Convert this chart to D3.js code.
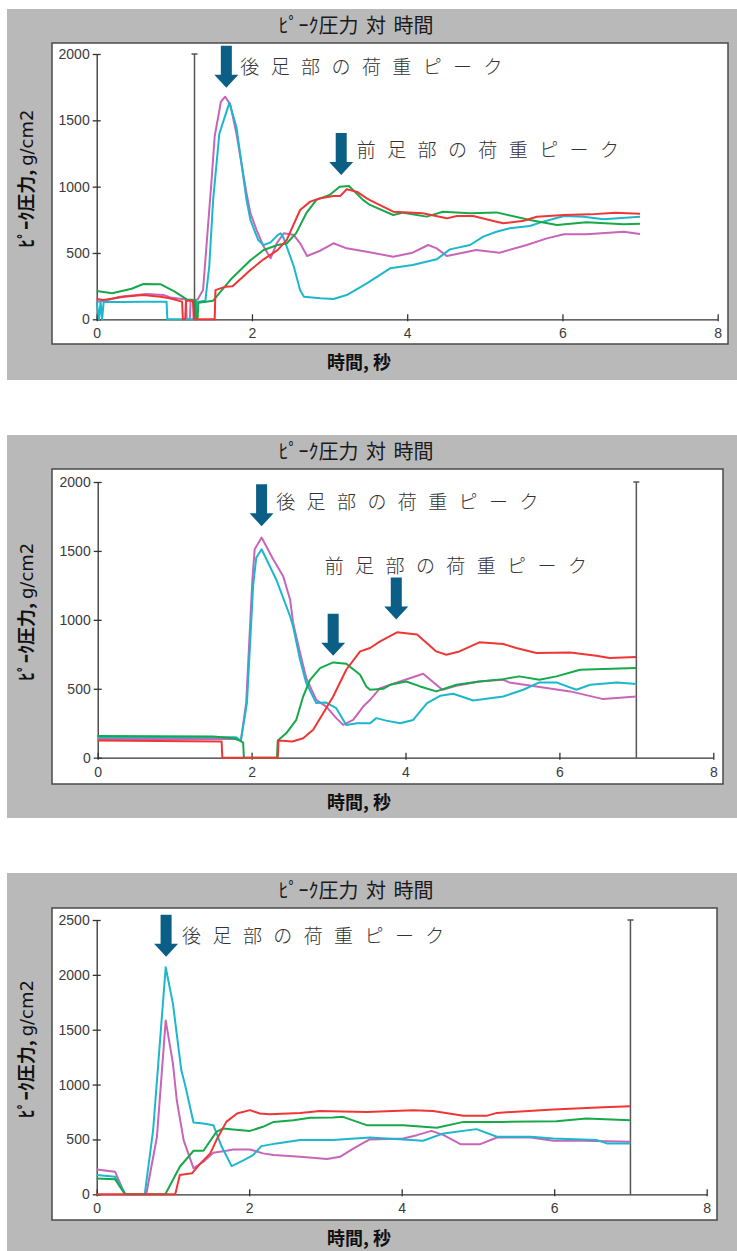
<!DOCTYPE html>
<html>
<head>
<meta charset="utf-8">
<script src="https://cdn.jsdelivr.net/npm/d3@7"></script>
<style>
  body { margin: 0; background: #fff; }
  svg { display: block; }
</style>
</head>
<body>
<div id="chart"></div>
<script>
// tick values
var timeTicks = [0, 2, 4, 6, 8];
var pressTicks2000 = [0, 500, 1000, 1500, 2000];
var pressTicks2500 = [0, 500, 1000, 1500, 2000, 2500];

// labels
var titleText = "ﾋﾟｰｸ圧力 対 時間";
var xLabelText = "時間, 秒";
var yLabelMain = "ﾋﾟｰｸ圧力, ";
var yLabelUnit = "g/cm2";
var rearText = "後足部の荷重ピーク";
var foreText = "前足部の荷重ピーク";

// panel 1 series: [time (s), peak pressure (g/cm2)]
var p1Magenta = [[0,133],[0.1,140],[0.3,170],[0.64,190],[0.86,183],[0.95,165],[1.15,150],[1.16,0],[1.2,0],[1.21,140],[1.3,150],[1.37,221],[1.43,673],[1.48,1050],[1.52,1380],[1.6,1640],[1.655,1678],[1.72,1620],[1.8,1400],[1.93,950],[1.98,800],[2.06,673],[2.15,548],[2.24,460],[2.32,573],[2.41,648],[2.54,635],[2.62,573],[2.71,477],[2.88,517],[3.05,573],[3.22,535],[3.48,510],[3.82,472],[4.07,502],[4.27,560],[4.38,535],[4.51,477],[4.89,522],[5.19,502],[5.54,560],[5.8,610],[6.02,641],[6.31,641],[6.79,660],[7.0,643]];
var p1Cyan = [[0,133],[0.03,0],[0.05,133],[0.07,0],[0.09,133],[0.3,130],[0.6,133],[0.9,133],[0.91,0],[1.28,0],[1.29,130],[1.4,140],[1.45,400],[1.5,900],[1.58,1400],[1.71,1633],[1.8,1450],[1.93,900],[1.98,750],[2.08,598],[2.15,560],[2.24,580],[2.33,635],[2.37,648],[2.41,610],[2.54,397],[2.62,221],[2.67,170],[2.88,158],[3.05,153],[3.22,183],[3.48,271],[3.78,384],[4.07,409],[4.38,452],[4.55,527],[4.81,560],[4.98,623],[5.15,660],[5.32,686],[5.58,703],[5.75,736],[6.02,779],[6.27,773],[6.53,754],[7.0,773]];
var p1Green = [[0,213],[0.2,196],[0.45,230],[0.6,266],[0.82,265],[1.0,210],[1.16,150],[1.27,145],[1.28,0],[1.3,0],[1.31,125],[1.5,140],[1.72,296],[1.98,445],[2.15,522],[2.33,560],[2.45,573],[2.57,650],[2.7,800],[2.83,900],[3.0,937],[3.13,1000],[3.25,1005],[3.43,900],[3.52,862],[3.82,786],[3.95,804],[4.25,774],[4.46,811],[4.81,799],[5.15,806],[5.58,749],[5.93,711],[6.31,731],[6.79,716],[7.0,721]];
var p1Red = [[0,153],[0.09,145],[0.35,170],[0.6,183],[0.82,170],[0.94,158],[1.1,133],[1.11,0],[1.14,0],[1.15,140],[1.24,140],[1.25,0],[1.52,0],[1.53,220],[1.66,246],[1.75,250],[1.98,372],[2.15,452],[2.33,522],[2.45,600],[2.62,824],[2.75,887],[2.88,912],[3.05,930],[3.14,930],[3.22,980],[3.35,962],[3.48,912],[3.52,899],[3.82,811],[4.2,799],[4.51,761],[4.64,779],[4.85,779],[5.15,736],[5.24,724],[5.5,743],[5.67,773],[6.02,786],[6.36,791],[6.68,804],[7.0,796]];

// panel 2 series
var p2Magenta = [[0,136],[1.8,136],[1.86,122],[1.93,400],[2.01,1293],[2.04,1512],[2.13,1597],[2.28,1439],[2.41,1317],[2.5,1148],[2.54,978],[2.63,760],[2.71,578],[2.84,420],[2.97,371],[3.1,287],[3.19,238],[3.32,274],[3.45,371],[3.54,420],[3.67,505],[3.93,553],[4.23,609],[4.4,529],[4.48,493],[4.66,522],[4.96,553],[5.27,565],[5.35,546],[5.7,517],[6.14,481],[6.57,425],[7.0,444]];
var p2Cyan = [[0,148],[1.8,148],[1.86,122],[1.94,400],[2.02,1250],[2.06,1450],[2.13,1512],[2.32,1293],[2.5,1026],[2.54,950],[2.63,711],[2.71,541],[2.84,396],[2.97,400],[3.1,359],[3.23,238],[3.37,250],[3.54,250],[3.62,287],[3.75,269],[3.93,250],[4.1,274],[4.28,396],[4.45,449],[4.62,464],[4.88,415],[5.27,444],[5.53,493],[5.74,546],[5.96,546],[6.22,493],[6.4,529],[6.75,546],[7.0,534]];
var p2Green = [[0,158],[1.5,153],[1.76,141],[1.85,124],[1.89,110],[1.9,0],[2.33,0],[2.34,124],[2.45,177],[2.58,274],[2.67,444],[2.76,565],[2.89,650],[3.06,691],[3.23,682],[3.41,602],[3.49,517],[3.54,493],[3.71,500],[3.8,529],[4.01,553],[4.19,517],[4.4,481],[4.66,529],[4.96,553],[5.27,570],[5.48,590],[5.74,565],[5.96,590],[6.27,638],[6.57,643],[7.0,650]];
var p2Red = [[0,124],[1.61,117],[1.62,0],[2.34,0],[2.35,124],[2.53,117],[2.67,141],[2.8,202],[2.93,323],[3.06,444],[3.23,638],[3.41,771],[3.54,796],[3.67,844],[3.89,910],[4.15,893],[4.4,771],[4.53,747],[4.7,771],[4.96,837],[5.27,825],[5.44,796],[5.7,760],[6.14,764],[6.48,740],[6.65,723],[7.0,731]];

// panel 3 series
var p3Magenta = [[0,227],[0.24,206],[0.37,0],[0.65,0],[0.79,524],[0.905,1585],[1.0,1191],[1.05,857],[1.14,494],[1.27,236],[1.4,297],[1.53,379],[1.7,397],[1.79,409],[2.01,409],[2.18,373],[2.32,358],[2.67,342],[3.02,321],[3.19,342],[3.37,418],[3.58,500],[4.02,509],[4.2,539],[4.39,578],[4.55,539],[4.77,457],[5.03,457],[5.25,518],[5.69,518],[5.99,488],[6.38,488],[7.0,479]];
var p3Cyan = [[0,175],[0.24,160],[0.38,0],[0.63,0],[0.74,585],[0.905,2069],[1.0,1736],[1.11,1130],[1.16,994],[1.27,654],[1.4,645],[1.53,630],[1.64,433],[1.77,257],[1.93,312],[2.05,357],[2.16,439],[2.36,464],[2.67,494],[3.1,494],[3.58,518],[4.02,500],[4.28,488],[4.55,555],[4.98,594],[5.25,524],[5.69,524],[5.99,509],[6.56,494],[6.69,464],[7.0,464]];
var p3Green = [[0,145],[0.24,138],[0.37,0],[0.9,0],[1.09,251],[1.27,397],[1.4,397],[1.57,569],[1.66,600],[1.79,591],[2.01,578],[2.18,615],[2.32,660],[2.58,675],[2.8,697],[3.1,700],[3.23,706],[3.54,630],[4.02,630],[4.46,606],[4.81,660],[5.33,660],[6.03,666],[6.42,691],[7.0,676]];
var p3Red = [[0,0],[1.03,0],[1.09,175],[1.25,191],[1.36,282],[1.49,373],[1.57,494],[1.7,660],[1.84,736],[2.01,767],[2.14,736],[2.27,730],[2.67,742],[2.93,760],[3.54,751],[4.15,767],[4.41,760],[4.81,715],[5.11,715],[5.25,742],[5.99,773],[6.64,794],[7.0,803]];

// end-of-recording markers (s)
var p1Marker = 1.26, p2Marker = 7.0, p3Marker = 7.0;

// annotation arrows: tip [time, pressure]
var p1Arrows = [[1.67, 1745], [3.15, 1088]];
var p2Arrows = [[2.13, 1679], [3.06, 740], [3.88, 1002]];
var p3Arrows = [[0.91, 2166]];
// annotation texts: [time, pressure, text]
var p1Notes = [[1.85, 1902, rearText], [3.35, 1276, foreText]];
var p2Notes = [[2.32, 1854, rearText], [2.95, 1390, foreText]];
var p3Notes = [[1.12, 2357, rearText]];

var colors = { magenta: "#c865b9", cyan: "#1cb7cc", green: "#17a84a", red: "#ef3636" };

var W = 737, H = 1251;
var svg = d3.select("#chart").append("svg").attr("width", W).attr("height", H);

// layout of the three stacked panels
var panels = [
  { top: 9, bottom: 380, box: [52, 43, 728, 344], xr: [96.7, 717.7], yr: [319.3, 54], yMax: 2000, yTicks: pressTicks2000,
    marker: p1Marker, series: [[p1Magenta, "magenta"], [p1Cyan, "cyan"], [p1Green, "green"], [p1Red, "red"]], arrows: p1Arrows, notes: p1Notes },
  { top: 435, bottom: 818, box: [52, 469, 723, 784], xr: [97.7, 713.3], yr: [757.7, 482], yMax: 2000, yTicks: pressTicks2000,
    marker: p2Marker, series: [[p2Magenta, "magenta"], [p2Cyan, "cyan"], [p2Green, "green"], [p2Red, "red"]], arrows: p2Arrows, notes: p2Notes },
  { top: 873, bottom: 1251, box: [52, 908, 717, 1220], xr: [96.7, 706.7], yr: [1194.3, 920], yMax: 2500, yTicks: pressTicks2500,
    marker: p3Marker, series: [[p3Magenta, "magenta"], [p3Cyan, "cyan"], [p3Green, "green"], [p3Red, "red"]], arrows: p3Arrows, notes: p3Notes }
];

panels.forEach(function(p) {
  var g = svg.append("g");

  // gray frame
  g.append("rect")
    .attr("x", 7).attr("y", p.top)
    .attr("width", W - 7).attr("height", p.bottom - p.top)
    .attr("fill", "#b9b9ba");

  // white plot box
  g.append("rect")
    .attr("x", p.box[0]).attr("y", p.box[1])
    .attr("width", p.box[2] - p.box[0]).attr("height", p.box[3] - p.box[1])
    .attr("fill", "#fff").attr("stroke", "#4a4a4a").attr("stroke-width", 1.5);

  var x = d3.scaleLinear().domain([0, 8]).range(p.xr);
  var y = d3.scaleLinear().domain([0, p.yMax]).range(p.yr);

  // title
  g.append("text")
    .attr("x", 356).attr("y", p.box[1] - 17)
    .attr("dy", "0.36em")
    .attr("text-anchor", "middle")
    .style("font-family", "'Noto Sans CJK JP', sans-serif")
    .style("font-size", "20px")
    .style("word-spacing", "3px")
    .attr("fill", "#1a1a1a")
    .text(titleText);

  // x axis
  var xAxis = g.append("g")
    .attr("transform", "translate(0," + p.yr[0] + ")")
    .call(d3.axisBottom(x).tickValues(timeTicks).tickSize(0).tickPadding(9).tickFormat(d3.format("d")));
  xAxis.select(".domain").attr("stroke", "#333").attr("stroke-width", 1.3);
  xAxis.selectAll(".tick line").attr("y1", -5).attr("y2", 2).attr("stroke", "#333").attr("stroke-width", 1.3);
  xAxis.selectAll(".tick text")
    .style("font-family", "'Liberation Sans', Arial, sans-serif")
    .style("font-size", "14px").attr("fill", "#3a3a3a");

  // y axis
  var yAxis = g.append("g")
    .attr("transform", "translate(" + p.xr[0] + ",0)")
    .call(d3.axisLeft(y).tickValues(p.yTicks).tickSize(0).tickPadding(7).tickFormat(d3.format("d")));
  yAxis.select(".domain").attr("stroke", "#333").attr("stroke-width", 1.3);
  yAxis.selectAll(".tick line").attr("x1", -4).attr("x2", 4).attr("stroke", "#333").attr("stroke-width", 1.3);
  yAxis.selectAll(".tick text")
    .style("font-family", "'Liberation Sans', Arial, sans-serif")
    .style("font-size", "14px").attr("fill", "#3a3a3a");

  // axis titles
  g.append("text")
    .attr("x", 359).attr("y", p.box[3] + 19)
    .attr("dy", "0.36em")
    .attr("text-anchor", "middle")
    .style("font-family", "'Noto Sans CJK JP', sans-serif")
    .style("font-size", "18px").style("font-weight", "bold")
    .attr("fill", "#111")
    .text(xLabelText);

  var yMid = (p.yr[0] + p.yr[1]) / 2 - 8;
  var yl = g.append("text")
    .attr("transform", "translate(27," + yMid + ") rotate(-90)")
    .attr("dy", "0.36em")
    .attr("text-anchor", "middle")
    .style("font-family", "'Noto Sans CJK JP', sans-serif")
    .style("font-size", "18px")
    .attr("fill", "#111");
  yl.append("tspan").style("font-weight", "bold").text(yLabelMain);
  yl.append("tspan").style("font-family", "'DejaVu Sans', sans-serif").style("font-size", "18px").text(yLabelUnit);

  // end marker line with cap
  var mx = x(p.marker);
  g.append("line")
    .attr("x1", mx).attr("x2", mx).attr("y1", y(p.yMax)).attr("y2", y(0))
    .attr("stroke", "#555").attr("stroke-width", 1.5);
  g.append("line")
    .attr("x1", mx - 3).attr("x2", mx + 3).attr("y1", y(p.yMax)).attr("y2", y(p.yMax))
    .attr("stroke", "#555").attr("stroke-width", 1.5);

  // series lines
  var line = d3.line()
    .x(function(d) { return x(d[0]); })
    .y(function(d) { return y(d[1]); });
  p.series.forEach(function(s) {
    g.append("path")
      .datum(s[0])
      .attr("d", line)
      .attr("fill", "none")
      .attr("stroke", colors[s[1]])
      .attr("stroke-width", 2)
      .attr("stroke-linejoin", "round");
  });

  // annotation arrows
  p.arrows.forEach(function(a) {
    var tx = x(a[0]), ty = y(a[1]);
    var L = 42, sw = 5.5, hw = 12, hh = 13;
    var pts = [[tx - sw, ty - L], [tx + sw, ty - L], [tx + sw, ty - hh], [tx + hw, ty - hh],
               [tx, ty], [tx - hw, ty - hh], [tx - sw, ty - hh]];
    g.append("path")
      .attr("d", "M" + pts.join("L") + "Z")
      .attr("fill", "#0b5f87");
  });

  // annotation texts
  p.notes.forEach(function(n) {
    g.append("text")
      .attr("x", x(n[0])).attr("y", y(n[1]))
      .attr("dy", "0.36em")
      .style("font-family", "'Noto Sans CJK JP', sans-serif")
      .style("font-size", "19px").style("font-weight", "300")
      .style("letter-spacing", "11.4px")
      .attr("fill", "#333")
      .text(n[2]);
  });
});
</script>
</body>
</html>
